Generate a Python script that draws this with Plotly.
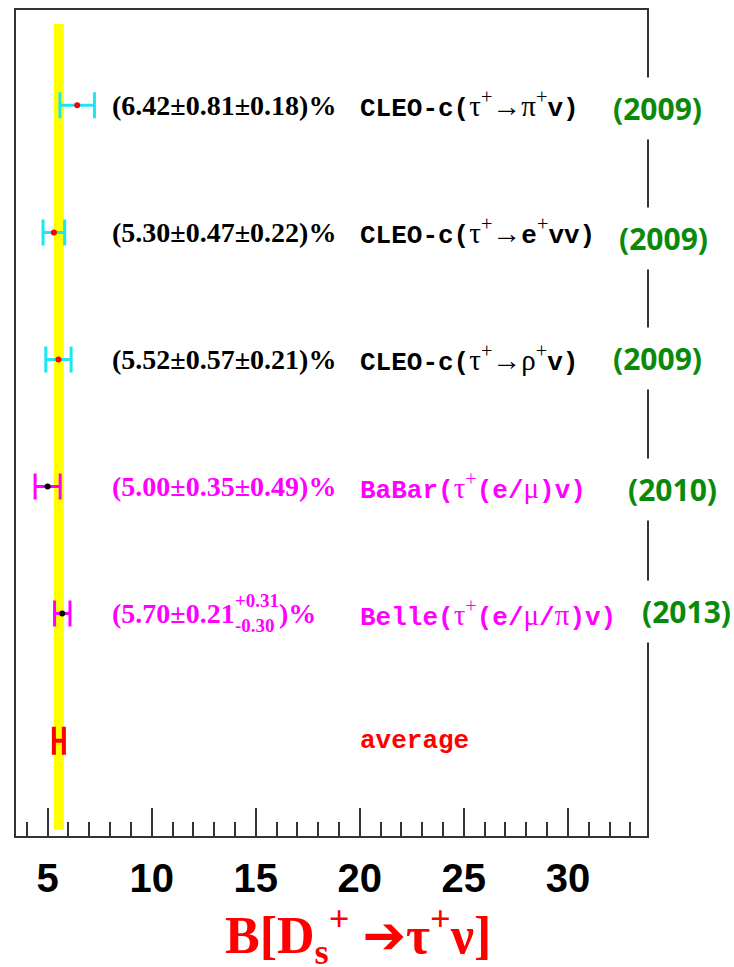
import math
import plotly.graph_objects as go

# ---- measurements of B(Ds+ -> tau+ nu) in percent ----
experiments = ["CLEO-c", "CLEO-c", "CLEO-c", "BaBar", "Belle"]
years = ["2009", "2009", "2009", "2010", "2013"]
bf_value = [6.42, 5.30, 5.52, 5.00, 5.70]
bf_stat = [0.81, 0.47, 0.57, 0.35, 0.21]
bf_syst_up = [0.18, 0.22, 0.21, 0.49, 0.31]
bf_syst_dn = [0.18, 0.22, 0.21, 0.49, 0.30]

# world average (band + bar)
avg_value = 5.54
avg_error = 0.24

x_ticks = [5, 10, 15, 20, 25, 30]

# ---- styling helpers ----
SERIF = "Liberation Serif, Times New Roman, serif"
MONO = "Liberation Mono, Courier New, monospace"


def sym(s):
    """Symbol-style (serif, normal weight) fragment inside the Courier labels."""
    return ("<span style='font-family:Liberation Serif;font-weight:normal;"
            f"font-size:29px'>{s}</span>")


tau = sym("τ<sup>+</sup>")
channels = [
    "(" + sym("τ<sup>+</sup>→π<sup>+</sup>") + "v)",
    "(" + sym("τ<sup>+</sup>→") + "e" + sym("<sup>+</sup>") + "vv)",
    "(" + sym("τ<sup>+</sup>→ρ<sup>+</sup>") + "v)",
    "(" + tau + "(e/" + sym("μ") + ")v)",
    "(" + tau + "(e/" + sym("μ") + "/" + sym("π") + ")v)",
]

rows = [6, 5, 4, 3, 2]
avg_row = 1

CYAN = "#1EE6F0"
MAGENTA = "#FF00FF"
RED = "#FF0000"
GREEN = "#0A8A0A"
bar_colors = [CYAN, CYAN, CYAN, MAGENTA, MAGENTA]
dot_colors = [RED, RED, RED, "black", "black"]
text_colors = ["black", "black", "black", MAGENTA, MAGENTA]

# plot-area geometry (pixels) used to place free text
W, H = 734, 967
ML, MR, MT, MB = 16, 87, 8, 131
PW, PH = W - ML - MR, H - MT - MB


def px_x(p):
    return (p - ML) / PW


def px_y(p):
    return (H - MB - p) / PH


# approximate Times-Bold advance widths (em) for laying out the Belle label
TB_W = {"(": 0.333, ")": 0.333, ".": 0.25, "±": 0.5, "%": 1.0, "+": 0.57, "-": 0.333}


def tb_width(s, size):
    return sum(TB_W.get(c, 0.5) for c in s) * size


err_up = [math.hypot(s, u) for s, u in zip(bf_stat, bf_syst_up)]
err_dn = [math.hypot(s, d) for s, d in zip(bf_stat, bf_syst_dn)]

fig = go.Figure()

# average band
fig.add_shape(type="rect", xref="x", yref="y",
              x0=avg_value - avg_error, x1=avg_value + avg_error,
              y0=0.30, y1=6.64, fillcolor="#FFFF00", line_width=0, layer="below")

for i in range(len(bf_value)):
    fig.add_trace(go.Scatter(
        x=[bf_value[i]], y=[rows[i]], mode="markers",
        marker=dict(color=dot_colors[i], size=6),
        error_x=dict(type="data", symmetric=False, array=[err_up[i]],
                     arrayminus=[err_dn[i]], color=bar_colors[i],
                     thickness=3, width=13),
        hoverinfo="skip"))

fig.add_trace(go.Scatter(
    x=[avg_value], y=[avg_row], mode="markers",
    marker=dict(color=RED, size=2),
    error_x=dict(type="data", array=[avg_error], color=RED, thickness=4, width=14),
    hoverinfo="skip"))

annotations = []
VAL_X = 110
VAL_SIZE = 28
SUP_SIZE = 19
for i in range(len(bf_value)):
    v, s, u, d = bf_value[i], bf_stat[i], bf_syst_up[i], bf_syst_dn[i]
    col = text_colors[i]
    if abs(u - d) < 1e-9:
        annotations.append(dict(
            x=px_x(VAL_X), xref="paper", y=rows[i], yref="y",
            xanchor="left", yanchor="middle", showarrow=False,
            text=f"({v:.2f}±{s:.2f}±{u:.2f})%",
            font=dict(family=SERIF, size=VAL_SIZE, color=col, weight="bold")))
    else:
        head = f"({v:.2f}±{s:.2f}"
        sup = f"+{u:.2f}"
        sub = f"-{d:.2f}"
        x_sup = VAL_X + tb_width(head, VAL_SIZE) + 2
        annotations.append(dict(
            x=px_x(VAL_X), xref="paper", y=rows[i], yref="y",
            xanchor="left", yanchor="middle", showarrow=False, text=head,
            font=dict(family=SERIF, size=VAL_SIZE, color=col, weight="bold")))
        annotations.append(dict(
            x=px_x(x_sup), xref="paper", y=rows[i], yref="y", yshift=13,
            xanchor="left", yanchor="middle", showarrow=False, text=sup,
            font=dict(family=SERIF, size=SUP_SIZE, color=col, weight="bold")))
        annotations.append(dict(
            x=px_x(x_sup), xref="paper", y=rows[i], yref="y", yshift=-12,
            xanchor="left", yanchor="middle", showarrow=False, text=sub,
            font=dict(family=SERIF, size=SUP_SIZE, color=col, weight="bold")))
        x_tail = x_sup + max(tb_width(sup, SUP_SIZE), tb_width(sub, SUP_SIZE))
        annotations.append(dict(
            x=px_x(x_tail), xref="paper", y=rows[i], yref="y",
            xanchor="left", yanchor="middle", showarrow=False, text=")%",
            font=dict(family=SERIF, size=VAL_SIZE, color=col, weight="bold")))

    annotations.append(dict(
        x=px_x(358), xref="paper", y=rows[i], yref="y",
        xanchor="left", yanchor="middle", showarrow=False,
        text=experiments[i] + channels[i],
        font=dict(family=MONO, size=26, color=col, weight="bold")))

annotations.append(dict(
    x=px_x(358), xref="paper", y=avg_row, yref="y",
    xanchor="left", yanchor="middle", showarrow=False, text="average",
    font=dict(family=MONO, size=26, color=RED, weight="bold")))

# publication years, on white boxes over the right frame
year_pos = [(612, 107), (618, 237), (612, 357), (627, 489), (641, 611)]
for yr, (xp, yp) in zip(years, year_pos):
    annotations.append(dict(
        x=px_x(xp - 10), xref="paper", y=px_y(yp), yref="paper",
        xanchor="left", yanchor="middle", showarrow=False,
        text=f"({yr})", bgcolor="white", borderpad=10,
        font=dict(family="Open Sans, Noto Sans, sans-serif", size=30,
                  color=GREEN, weight="bold")))

# axis title
annotations.append(dict(
    x=px_x(358), xref="paper", y=px_y(936), yref="paper",
    xanchor="center", yanchor="middle", showarrow=False,
    text="B[D<sub>s</sub><sup>+</sup> "
         "<span style='font-family:DejaVu Sans'>➔</span>τ<sup>+</sup>ν]",
    font=dict(family=SERIF, size=52, color=RED, weight="bold")))

fig.update_layout(
    width=W, height=H,
    margin=dict(l=ML, r=MR, t=MT, b=MB),
    paper_bgcolor="white", plot_bgcolor="white",
    showlegend=False,
    annotations=annotations,
    xaxis=dict(
        range=[3.48, 33.8], showgrid=False, zeroline=False,
        showline=True, linecolor="#333", linewidth=2, mirror=True,
        tickmode="array", tickvals=x_ticks, ticktext=[str(t) for t in x_ticks],
        ticks="inside", ticklen=28, tickwidth=2, tickcolor="#333",
        minor=dict(ticks="inside", ticklen=14, tickwidth=2, tickcolor="#333",
                   tickmode="linear", tick0=0, dtick=1),
        tickfont=dict(family="Liberation Sans, Arial, sans-serif",
                      size=40, color="black", weight="bold"),
        ticklabelstandoff=6,
    ),
    yaxis=dict(
        range=[0.25, 6.75], showgrid=False, zeroline=False,
        showline=True, linecolor="#333", linewidth=2, mirror=True,
        showticklabels=False, ticks="",
    ),
)

fig.write_html("out.html")
